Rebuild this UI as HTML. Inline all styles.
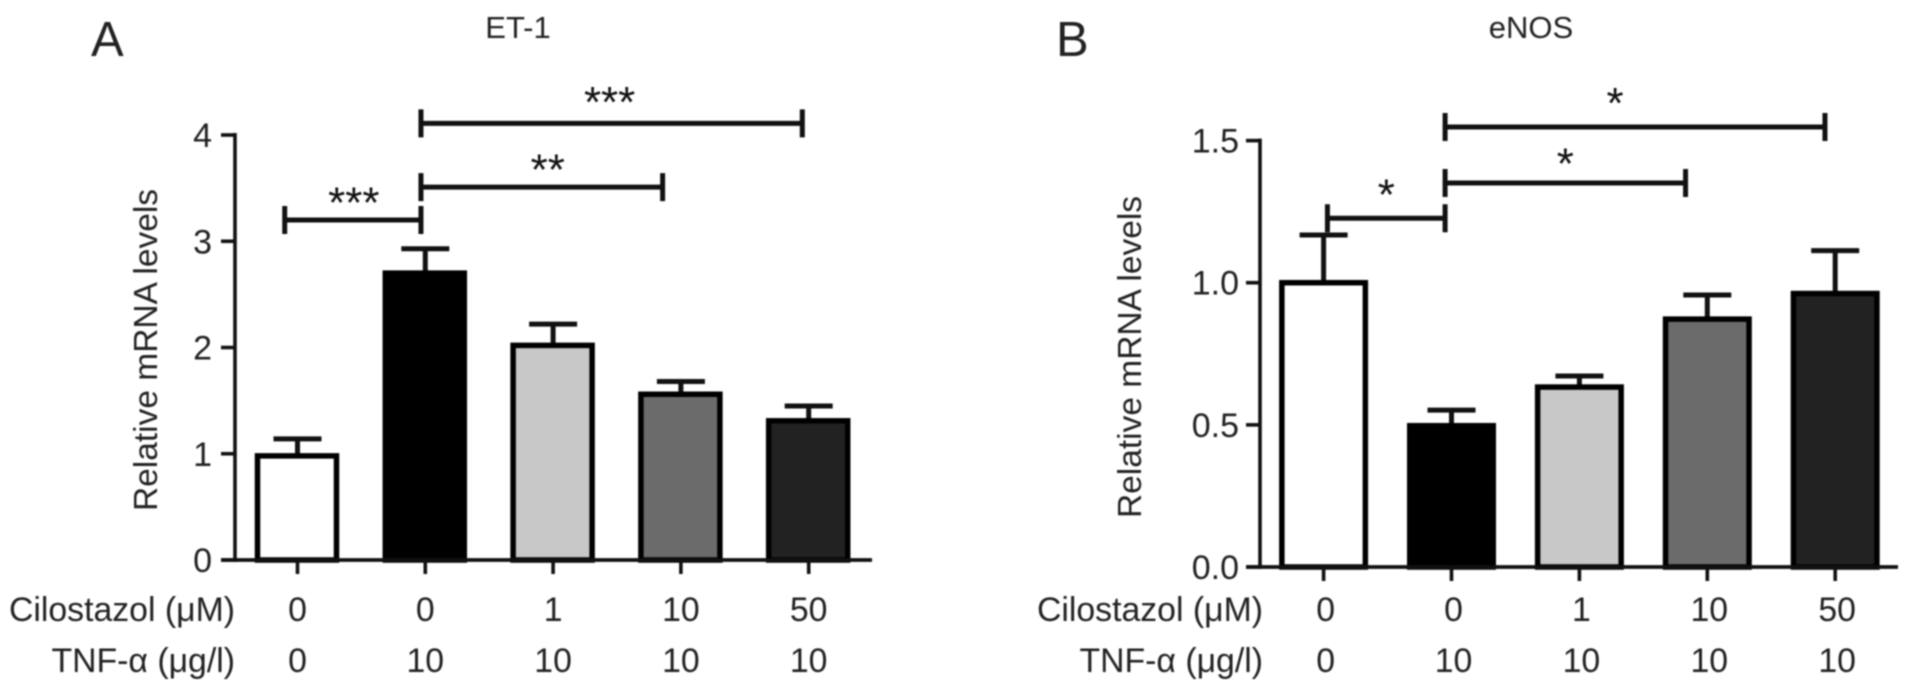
<!DOCTYPE html>
<html lang="en">
<head>
<meta charset="utf-8">
<title>ET-1 and eNOS relative mRNA levels</title>
<style>
html,body{margin:0;padding:0;background:#fff;width:1913px;height:692px;overflow:hidden}
svg{display:block;filter:blur(.7px)}
text{font-family:"Liberation Sans","DejaVu Sans",sans-serif;fill:#222}
</style>
</head>
<body>
<svg id="figure" xmlns="http://www.w3.org/2000/svg" width="1913" height="692" viewBox="0 0 1913 692">
  <rect width="1913" height="692" fill="#fff"/>
  <g id="panel-a">
    <text x="91" y="56" font-size="49">A</text>
    <text x="518" y="38" font-size="31" text-anchor="middle">ET-1</text>
    <text transform="translate(157,350) rotate(-90)" font-size="33.5" text-anchor="middle">Relative mRNA levels</text>
    <text x="235" y="621" font-size="33.8" text-anchor="end">Cilostazol (μM)</text>
    <text x="235" y="672" font-size="33.8" text-anchor="end">TNF-α (μg/l)</text>
  </g>
  <g id="panel-b">
    <text x="1056" y="56" font-size="49">B</text>
    <text x="1531" y="38" font-size="31" text-anchor="middle">eNOS</text>
    <text transform="translate(1141,357) rotate(-90)" font-size="33.5" text-anchor="middle">Relative mRNA levels</text>
    <text x="1263" y="621" font-size="33.8" text-anchor="end">Cilostazol (μM)</text>
    <text x="1263" y="672" font-size="33.8" text-anchor="end">TNF-α (μg/l)</text>
  </g>
</svg>
<script>
// Shared category labels
const cilostazolDoses = ['0', '0', '1', '10', '50'];
const tnfDoses = ['0', '10', '10', '10', '10'];
const barColors = ['#ffffff', '#000000', '#c8c8c8', '#6b6b6b', '#222222'];

// Panel A: ET-1
const etValues = [0.98, 2.70, 2.02, 1.56, 1.31];
const etErrors = [1.14, 2.93, 2.22, 1.68, 1.45];
const etTicks = [0, 1, 2, 3, 4];
const etTickLabels = ['0', '1', '2', '3', '4'];
const etBracketFrom = [-0.10, 0.966, 0.966];
const etBracketTo = [0.966, 2.857, 3.95];
const etBracketLevels = [3.20, 3.51, 4.11];
const etBracketStars = ['***', '**', '***'];

// Panel B: eNOS
const enosValues = [1.00, 0.497, 0.633, 0.872, 0.962];
const enosErrors = [1.168, 0.552, 0.672, 0.957, 1.113];
const enosTicks = [0, 0.5, 1, 1.5];
const enosTickLabels = ['0.0', '0.5', '1.0', '1.5'];
const enosBracketFrom = [0.03, 0.95, 0.95];
const enosBracketTo = [0.95, 2.83, 3.92];
const enosBracketLevels = [1.227, 1.351, 1.548];
const enosBracketStars = ['*', '*', '*'];

const NS = 'http://www.w3.org/2000/svg';

function make(parent, tag, attrs, text) {
  const el = document.createElementNS(NS, tag);
  for (const k in attrs) el.setAttribute(k, attrs[k]);
  if (text !== undefined) el.textContent = text;
  parent.appendChild(el);
  return el;
}

function drawPanel(parent, layout, values, errors, ticks, tickLabels, bFrom, bTo, bLevels, bStars) {
  const yScale = v => layout.baseY - (v / layout.yMax) * (layout.baseY - layout.topY);
  const xScale = i => layout.firstX + i * layout.stepX;
  const ink = '#111';

  // bars and error bars
  values.forEach((v, i) => {
    const cx = xScale(i);
    const err = make(parent, 'path', {
      d: 'M' + cx + ' ' + yScale(v) + 'V' + yScale(errors[i]) + 'M' + (cx - 24) + ' ' + yScale(errors[i]) + 'H' + (cx + 24),
      stroke: ink, 'stroke-width': 5, fill: 'none'
    });
    
    
    const bar = make(parent, 'rect', {
      x: cx - layout.barW / 2 + layout.barShift, y: yScale(v),
      width: layout.barW, height: yScale(0) - yScale(v),
      fill: barColors[i], stroke: '#000', 'stroke-width': 5.5
    });
    
    
  });

  // y axis
  const yAxis = make(parent, 'line', {
    x1: layout.axisX, x2: layout.axisX, y1: yScale(ticks[ticks.length - 1]) - 2, y2: layout.baseY + 2,
    stroke: ink, 'stroke-width': 3.6
  });
  
  

  ticks.forEach((t, i) => {
    const tick = make(parent, 'line', {
      x1: layout.axisX - 14, x2: layout.axisX, y1: yScale(t), y2: yScale(t),
      stroke: ink, 'stroke-width': 3.6
    });
    
    
    const lab = make(parent, 'text', {
      x: layout.tickLabelX, y: yScale(t) + 12, 'font-size': 34, 'text-anchor': 'end'
    }, tickLabels[i]);
    
    
  });

  // x axis
  const xAxis = make(parent, 'line', {
    x1: layout.axisStart, x2: layout.axisEnd, y1: layout.baseY, y2: layout.baseY,
    stroke: ink, 'stroke-width': 3.8
  });
  
  

  cilostazolDoses.forEach((d, i) => {
    const cx = xScale(i);
    const tick = make(parent, 'line', {
      x1: cx, x2: cx, y1: layout.baseY, y2: layout.baseY + 14,
      stroke: ink, 'stroke-width': 3.6
    });
    
    
    const c = make(parent, 'text', {
      x: cx + layout.labelShift, y: 621, 'font-size': 33.8, 'text-anchor': 'middle'
    }, d);
    
    
    const n = make(parent, 'text', {
      x: cx + layout.labelShift, y: 672, 'font-size': 33.8, 'text-anchor': 'middle'
    }, tnfDoses[i]);
    
    
  });

  // significance brackets
  bLevels.forEach((lv, i) => {
    const x1 = xScale(bFrom[i]), x2 = xScale(bTo[i]), y = yScale(lv);
    const br = make(parent, 'path', {
      d: 'M' + x1 + ' ' + y + 'H' + x2 + 'M' + x1 + ' ' + (y - 14) + 'V' + (y + 14) + 'M' + x2 + ' ' + (y - 14) + 'V' + (y + 14),
      stroke: ink, 'stroke-width': 5, fill: 'none'
    });
    
    
    const st = make(parent, 'text', {
      x: (x1 + x2) / 2 + layout.starShift[i], y: y + layout.starRise[i],
      'font-size': 44, 'text-anchor': 'middle', style: 'fill:#111'
    }, bStars[i]);
    
    
  });
}

drawPanel(document.getElementById('panel-a'), {
  baseY: 560, topY: 135, yMax: 4, firstX: 297.5, stepX: 127.8, barW: 79, barShift: -0.5,
  axisX: 235, axisStart: 221, axisEnd: 872, tickLabelX: 212, labelShift: 0,
  starShift: [1, 6, -2], starRise: [-2.5, -2.5, -6.5]
}, etValues, etErrors, etTicks, etTickLabels, etBracketFrom, etBracketTo, etBracketLevels, etBracketStars);

drawPanel(document.getElementById('panel-b'), {
  baseY: 567, topY: 140.6, yMax: 1.5, firstX: 1323.6, stepX: 127.9, barW: 83.5, barShift: 0,
  axisX: 1260, axisStart: 1246, axisEnd: 1898, tickLabelX: 1239, labelShift: 2,
  starShift: [0, 0, -20], starRise: [-8.5, -4.7, -9]
}, enosValues, enosErrors, enosTicks, enosTickLabels, enosBracketFrom, enosBracketTo, enosBracketLevels, enosBracketStars);
</script>
</body>
</html>
